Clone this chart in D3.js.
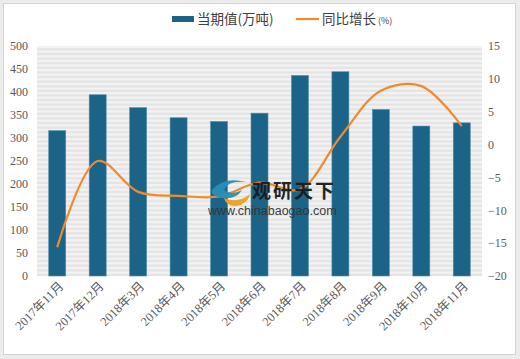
<!DOCTYPE html>
<html>
<head>
<meta charset="utf-8">
<script src="https://cdn.jsdelivr.net/npm/d3@7"></script>
<style>
  body { margin: 0; background: #ececec; }
  svg { display: block; font-family: "Liberation Serif", "Noto Sans CJK SC", serif; }
</style>
</head>
<body>
<svg width="520" height="359"></svg>
<script>
// data
const months = ["2017年11月", "2017年12月", "2018年3月", "2018年4月", "2018年5月", "2018年6月",
  "2018年7月", "2018年8月", "2018年9月", "2018年10月", "2018年11月"];
const output = [316, 394, 366, 344, 336, 354, 436, 444, 362, 326, 333];
const growth = [-15.6, -2.5, -7.2, -7.8, -7.9, -5.8, -6.8, 1.2, 8.2, 8.9, 2.8];
const leftTicks = [0, 50, 100, 150, 200, 250, 300, 350, 400, 450, 500];
const rightTicks = [-20, -15, -10, -5, 0, 5, 10, 15];

const svg = d3.select("svg");
const plotTop = 46, plotBottom = 276, plotLeft = 37, plotRight = 482;

// white card with grey frame
svg.append("rect")
  .attr("x", 3.5).attr("y", 3.5).attr("width", 512).attr("height", 351)
  .attr("fill", "#fff").attr("stroke", "#d4d4d4");

// striped plot background
const defs = svg.append("defs");
const pat = defs.append("pattern").attr("id", "stripes")
  .attr("patternUnits", "userSpaceOnUse").attr("width", 8).attr("height", 4.6)
  .attr("y", plotTop);
pat.append("rect").attr("width", 8).attr("height", 4.6).attr("fill", "#f3f3f3");
pat.append("rect").attr("y", 2.3).attr("width", 8).attr("height", 2.3).attr("fill", "#e4e4e4");
svg.append("rect")
  .attr("x", plotLeft).attr("y", plotTop)
  .attr("width", plotRight - plotLeft).attr("height", plotBottom - plotTop)
  .attr("fill", "url(#stripes)");

const x = d3.scaleBand().domain(months).range([plotLeft, plotRight]).paddingInner(0.58).paddingOuter(0.29);
const yL = d3.scaleLinear().domain([0, 500]).range([plotBottom, plotTop]);
const yR = d3.scaleLinear().domain([-20, 15]).range([plotBottom, plotTop]);

// left axis
const axL = svg.append("g").attr("transform", "translate(28,0)")
  .call(d3.axisLeft(yL).tickValues(leftTicks).tickSize(0).tickPadding(0));
axL.select(".domain").remove();
axL.selectAll("text").attr("fill", "#595959").style("font-size", "12px")
  .attr("font-family", "Liberation Serif");

// right axis
const axR = svg.append("g").attr("transform", "translate(488,0)")
  .call(d3.axisRight(yR).tickValues(rightTicks).tickSize(0).tickPadding(0)
    .tickFormat(d => d < 0 ? "\u2212" + Math.abs(d) : d));
axR.select(".domain").remove();
axR.selectAll("text").attr("fill", "#595959").style("font-size", "12px")
  .attr("font-family", "Liberation Serif");

// bars
svg.append("g").selectAll("rect").data(output).join("rect")
  .attr("x", (d, i) => x(months[i]))
  .attr("y", d => yL(d))
  .attr("width", x.bandwidth())
  .attr("height", d => yL(0) - yL(d))
  .attr("fill", "#1b6487")
  .attr("stroke", "#4f8fae").attr("stroke-width", 0.6);

// x labels rotated
const xl = svg.append("g").attr("transform", `translate(0,${plotBottom})`)
  .call(d3.axisBottom(x).tickSize(0).tickPadding(0));
xl.select(".domain").remove();
xl.selectAll("text")
  .attr("fill", "#595959").style("font-size", "12.5px")
  .attr("font-family", "Liberation Serif, Noto Sans CJK SC")
  .attr("text-anchor", "end")
  .attr("dy", "0")
  .attr("transform", "translate(7,11) rotate(-45)");

// growth line
const line = d3.line()
  .x((d, i) => x(months[i]) + x.bandwidth() / 2)
  .y(d => yR(d))
  .curve(d3.curveCatmullRom.alpha(0.5));
svg.append("path").datum(growth)
  .attr("d", line)
  .attr("fill", "none")
  .attr("stroke", "#f08a2c")
  .attr("stroke-width", 2.2);

// watermark
const wm = svg.append("g").attr("opacity", 0.95);
wm.append("path")
  .attr("d", "M212,190 q12,-14 34,-8 q-18,-2 -22,8 q8,6 18,0 q-6,10 -20,8 q-12,-2 -10,-8z")
  .attr("fill", "#2a8fb8");
wm.append("path")
  .attr("d", "M224,198 q14,6 26,-4 q-2,10 -14,12 q-10,0 -12,-8z")
  .attr("fill", "#f0a020");
wm.append("text").attr("x", 252).attr("y", 198)
  .attr("font-family", "Noto Sans CJK SC").attr("font-weight", 700)
  .style("font-size", "19px").attr("fill", "#1a1a1a")
  .attr("letter-spacing", 2).text("观研天下");
wm.append("text").attr("x", 208).attr("y", 215)
  .attr("font-family", "Liberation Sans").style("font-size", "12.5px")
  .attr("fill", "#333").text("www.chinabaogao.com");

// legend
const lg = svg.append("g").style("font-size", "13.5px")
  .attr("font-family", "Noto Sans CJK SC");
lg.append("rect").attr("x", 172).attr("y", 16).attr("width", 22).attr("height", 6)
  .attr("fill", "#1b6487");
lg.append("text").attr("x", 197).attr("y", 24).attr("fill", "#404040").text("当期值(万吨)");
lg.append("line").attr("x1", 296).attr("x2", 319).attr("y1", 19).attr("y2", 19)
  .attr("stroke", "#f08a2c").attr("stroke-width", 2.2);
lg.append("text").attr("x", 322).attr("y", 24).attr("fill", "#404040").text("同比增长");
lg.append("text").attr("x", 378).attr("y", 24).attr("fill", "#404040")
  .style("font-size", "9px").text("(%)");
</script>
</body>
</html>
